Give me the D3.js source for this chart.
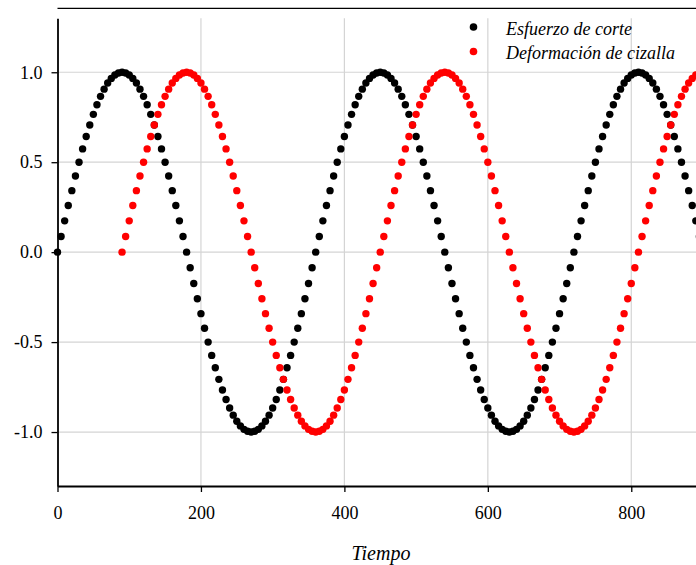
<!DOCTYPE html>
<html>
<head>
<meta charset="utf-8">
<script src="https://cdn.jsdelivr.net/npm/d3@7"></script>
<style>
  body { margin: 0; background: #fff; }
  svg { display: block; }
</style>
</head>
<body>
<div id="chart"></div>
<script>
// serie 1: esfuerzo de corte, muestreado cada 5 unidades desde t = 0
var tiempoEsfuerzo = d3.range(0, 905, 5)
var esfuerzo = [
  0, 0.087, 0.174, 0.259, 0.342, 0.423, 0.5, 0.574, 0.643, 0.707, 0.766, 0.819, 0.866, 0.906, 0.94, 0.966, 0.985, 0.996,
  1, 0.996, 0.985, 0.966, 0.94, 0.906, 0.866, 0.819, 0.766, 0.707, 0.643, 0.574, 0.5, 0.423, 0.342, 0.259, 0.174, 0.087,
  0, -0.087, -0.174, -0.259, -0.342, -0.423, -0.5, -0.574, -0.643, -0.707, -0.766, -0.819, -0.866, -0.906, -0.94, -0.966, -0.985, -0.996,
  -1, -0.996, -0.985, -0.966, -0.94, -0.906, -0.866, -0.819, -0.766, -0.707, -0.643, -0.574, -0.5, -0.423, -0.342, -0.259, -0.174, -0.087,
  0, 0.087, 0.174, 0.259, 0.342, 0.423, 0.5, 0.574, 0.643, 0.707, 0.766, 0.819, 0.866, 0.906, 0.94, 0.966, 0.985, 0.996,
  1, 0.996, 0.985, 0.966, 0.94, 0.906, 0.866, 0.819, 0.766, 0.707, 0.643, 0.574, 0.5, 0.423, 0.342, 0.259, 0.174, 0.087,
  0, -0.087, -0.174, -0.259, -0.342, -0.423, -0.5, -0.574, -0.643, -0.707, -0.766, -0.819, -0.866, -0.906, -0.94, -0.966, -0.985, -0.996,
  -1, -0.996, -0.985, -0.966, -0.94, -0.906, -0.866, -0.819, -0.766, -0.707, -0.643, -0.574, -0.5, -0.423, -0.342, -0.259, -0.174, -0.087,
  0, 0.087, 0.174, 0.259, 0.342, 0.423, 0.5, 0.574, 0.643, 0.707, 0.766, 0.819, 0.866, 0.906, 0.94, 0.966, 0.985, 0.996,
  1, 0.996, 0.985, 0.966, 0.94, 0.906, 0.866, 0.819, 0.766, 0.707, 0.643, 0.574, 0.5, 0.423, 0.342, 0.259, 0.174, 0.087,
  0
]

// serie 2: deformacion de cizalla, empieza en t = 90
var tiempoDeformacion = d3.range(90, 905, 5)
var deformacion = [
  0, 0.087, 0.174, 0.259, 0.342, 0.423, 0.5, 0.574, 0.643, 0.707, 0.766, 0.819, 0.866, 0.906, 0.94, 0.966, 0.985, 0.996,
  1, 0.996, 0.985, 0.966, 0.94, 0.906, 0.866, 0.819, 0.766, 0.707, 0.643, 0.574, 0.5, 0.423, 0.342, 0.259, 0.174, 0.087,
  0, -0.087, -0.174, -0.259, -0.342, -0.423, -0.5, -0.574, -0.643, -0.707, -0.766, -0.819, -0.866, -0.906, -0.94, -0.966, -0.985, -0.996,
  -1, -0.996, -0.985, -0.966, -0.94, -0.906, -0.866, -0.819, -0.766, -0.707, -0.643, -0.574, -0.5, -0.423, -0.342, -0.259, -0.174, -0.087,
  0, 0.087, 0.174, 0.259, 0.342, 0.423, 0.5, 0.574, 0.643, 0.707, 0.766, 0.819, 0.866, 0.906, 0.94, 0.966, 0.985, 0.996,
  1, 0.996, 0.985, 0.966, 0.94, 0.906, 0.866, 0.819, 0.766, 0.707, 0.643, 0.574, 0.5, 0.423, 0.342, 0.259, 0.174, 0.087,
  0, -0.087, -0.174, -0.259, -0.342, -0.423, -0.5, -0.574, -0.643, -0.707, -0.766, -0.819, -0.866, -0.906, -0.94, -0.966, -0.985, -0.996,
  -1, -0.996, -0.985, -0.966, -0.94, -0.906, -0.866, -0.819, -0.766, -0.707, -0.643, -0.574, -0.5, -0.423, -0.342, -0.259, -0.174, -0.087,
  0, 0.087, 0.174, 0.259, 0.342, 0.423, 0.5, 0.574, 0.643, 0.707, 0.766, 0.819, 0.866, 0.906, 0.94, 0.966, 0.985, 0.996,
  1
]

var xTicks = [0, 200, 400, 600, 800]
var yTicks = [-1.0, -0.5, 0.0, 0.5, 1.0]
var yTickLabels = ["-1.0", "-0.5", "0.0", "0.5", "1.0"]
var seriesNames = ["Esfuerzo de corte", "Deformación de cizalla"]
var seriesColors = ["#000000", "#ff0000"]

var width = 696
var height = 565
var margins = {top: 18.3, left: 57.5, bottom: 79, right: -7}
var inner_width = width - margins.left - margins.right
var inner_height = height - margins.top - margins.bottom
var font = "'Liberation Serif', 'DejaVu Serif', serif"

d3.select("#chart").html("")

var svg = d3.select("#chart").append("svg")
            .attr("width", width)
            .attr("height", height)
            .style("font-family", font)

var g = svg.append("g")
           .attr("transform", "translate(" + margins.left + "," + margins.top + ")")

var scalex = d3.scaleLinear()
               .domain([0, 900])
               .range([0, inner_width])

var scaley = d3.scaleLinear()
               .domain([-1.3, 1.3])
               .range([inner_height, 0])

// rejilla gris
g.append("g").selectAll("line").data(yTicks)
  .enter().append("line")
  .attr("x1", 0).attr("x2", inner_width)
  .attr("y1", function (d) { return scaley(d) })
  .attr("y2", function (d) { return scaley(d) })
  .attr("stroke", "#d4d4d4").attr("stroke-width", 1.2)

g.append("g").selectAll("line").data(xTicks.slice(1))
  .enter().append("line")
  .attr("y1", 0).attr("y2", inner_height)
  .attr("x1", function (d) { return scalex(d) })
  .attr("x2", function (d) { return scalex(d) })
  .attr("stroke", "#d4d4d4").attr("stroke-width", 1.2)

// linea superior del marco
svg.append("line")
   .attr("x1", margins.left).attr("x2", width)
   .attr("y1", 8.3).attr("y2", 8.3)
   .attr("stroke", "#000").attr("stroke-width", 1.3)

// ejes (guion normal en los negativos, como el original)
var ax = g.append("g")
  .attr("transform", "translate(0," + inner_height + ")")
  .call(d3.axisBottom(scalex).tickValues(xTicks).tickSize(6).tickPadding(14).tickSizeOuter(0)
        .tickFormat(d3.format("d")))
var ay = g.append("g")
  .call(d3.axisLeft(scaley).tickValues(yTicks).tickSize(6).tickPadding(9).tickSizeOuter(0)
        .tickFormat(function (d, i) { return yTickLabels[i] }))

;[ax, ay].forEach(function (a) {
  a.select(".domain").attr("stroke", "#000").attr("stroke-width", 1.8)
  a.selectAll(".tick line").attr("stroke", "#000").attr("stroke-width", 1.3)
  a.selectAll(".tick text").attr("fill", "#000")
   .style("font-family", font).style("font-size", "18px")
})

// puntos
var series = [
  {name: seriesNames[0], color: seriesColors[0], x: tiempoEsfuerzo, y: esfuerzo},
  {name: seriesNames[1], color: seriesColors[1], x: tiempoDeformacion, y: deformacion}
]

series.forEach(function (s) {
  g.append("g").selectAll("circle").data(s.y)
    .enter().append("circle")
    .attr("r", 3.7)
    .attr("cx", function (d, i) { return scalex(s.x[i]) })
    .attr("cy", function (d) { return scaley(d) })
    .attr("fill", s.color)
})

// leyenda
var legend = svg.append("g")
series.forEach(function (s, i) {
  legend.append("circle")
    .attr("cx", 473.5).attr("cy", 27 + i * 24.5)
    .attr("r", 3.8).attr("fill", s.color)
  legend.append("text")
    .attr("x", 506).attr("y", 35 + i * 24)
    .style("font-style", "italic").style("font-size", "18px")
    .text(s.name)
})

// titulo del eje x
svg.append("text")
   .attr("x", 381).attr("y", 560)
   .attr("text-anchor", "middle")
   .style("font-style", "italic").style("font-size", "20px")
   .text("Tiempo")
</script>
</body>
</html>
